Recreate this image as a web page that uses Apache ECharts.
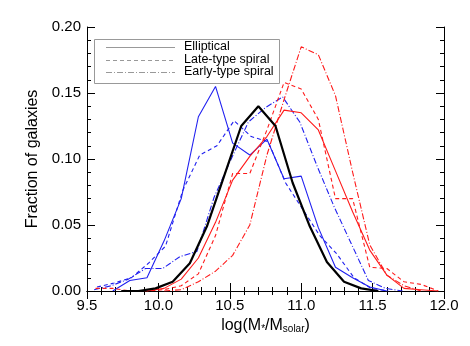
<!DOCTYPE html>
<html>
<head>
<meta charset="utf-8">
<script src="https://cdn.jsdelivr.net/npm/echarts@6/dist/echarts.min.js"></script>
<style>
  html, body { margin: 0; padding: 0; background: #fff; }
  #chart { width: 470px; height: 346px; }
</style>
</head>
<body>
<div id="chart"></div>
<script>
// axis ticks
var xTicks = [9.5, 10.0, 10.5, 11.0, 11.5, 12.0];
var yTicks = [0.00, 0.05, 0.10, 0.15, 0.20];

// black thick line (all galaxies)
var blackX = [9.74, 9.86, 9.98, 10.10, 10.22, 10.34, 10.46, 10.58, 10.70, 10.82, 10.94, 11.06, 11.18, 11.30, 11.42, 11.54];
var blackY = [0, 0, 0.002, 0.007, 0.021, 0.049, 0.087, 0.125, 0.140, 0.125, 0.082, 0.049, 0.022, 0.007, 0.002, 0];

// blue sample
var blueEllX = [9.68, 9.80, 9.92, 10.04, 10.16, 10.28, 10.40, 10.52, 10.64, 10.76, 10.88, 11.00, 11.12, 11.24, 11.36, 11.48, 11.60];
var blueEllY = [0, 0.008, 0.010, 0.038, 0.070, 0.132, 0.155, 0.112, 0.103, 0.115, 0.085, 0.087, 0.048, 0.018, 0.010, 0.003, 0];
var blueLateX = [9.57, 9.69, 9.81, 9.93, 10.05, 10.17, 10.29, 10.41, 10.53, 10.65, 10.77, 10.89, 11.01, 11.13, 11.25, 11.37, 11.49, 11.61];
var blueLateY = [0.003, 0.006, 0.010, 0.021, 0.034, 0.076, 0.103, 0.110, 0.129, 0.117, 0.113, 0.082, 0.062, 0.042, 0.028, 0.010, 0.002, 0];
var blueEarlyX = [9.55, 9.67, 9.79, 9.91, 10.03, 10.15, 10.27, 10.39, 10.51, 10.63, 10.75, 10.87, 10.99, 11.11, 11.23, 11.35, 11.47, 11.59, 11.71];
var blueEarlyY = [0.001, 0.004, 0.009, 0.017, 0.017, 0.026, 0.030, 0.071, 0.100, 0.128, 0.139, 0.147, 0.128, 0.095, 0.064, 0.036, 0.008, 0.002, 0];

// red sample
var redEllX = [9.92, 10.04, 10.16, 10.28, 10.40, 10.52, 10.64, 10.76, 10.88, 11.00, 11.12, 11.24, 11.36, 11.48, 11.60, 11.72, 11.84, 11.96];
var redEllY = [0, 0.002, 0.009, 0.025, 0.052, 0.084, 0.102, 0.117, 0.137, 0.135, 0.122, 0.091, 0.060, 0.031, 0.012, 0.002, 0.001, 0];
var redLateX = [9.56, 9.68, 9.80, 9.92, 10.04, 10.16, 10.28, 10.40, 10.52, 10.64, 10.76, 10.88, 11.00, 11.12, 11.24, 11.36, 11.48, 11.60, 11.72, 11.84, 11.96];
var redLateY = [0.002, 0.002, 0, 0, 0.001, 0.004, 0.013, 0.042, 0.089, 0.089, 0.122, 0.158, 0.153, 0.130, 0.070, 0.070, 0.018, 0.017, 0.007, 0.005, 0];
var redEarlyX = [10.04, 10.16, 10.28, 10.40, 10.52, 10.64, 10.76, 10.88, 11.00, 11.12, 11.24, 11.36, 11.48, 11.60, 11.72, 11.84];
var redEarlyY = [0, 0.001, 0.007, 0.015, 0.027, 0.050, 0.103, 0.145, 0.185, 0.179, 0.148, 0.090, 0.035, 0.012, 0.004, 0];

var legendNames = ['Elliptical', 'Late-type spiral', 'Early-type spiral'];

var FONT = 'Liberation Sans';
var DASH = [4, 3];
var DASHDOT = [6, 2, 1, 2];

function pairs(xs, ys) {
    var out = [];
    for (var i = 0; i < xs.length; i++) out.push([xs[i], ys[i]]);
    return out;
}

function lineSeries(name, xs, ys, color, type, width, z) {
    return {
        name: name,
        type: 'line',
        data: pairs(xs, ys),
        showSymbol: false,
        symbol: 'none',
        animation: false,
        z: z || 2,
        lineStyle: { color: color, width: width, type: type }
    };
}

function baseAxis(extra) {
    var ax = {
        type: 'value',
        axisLine: { show: true, lineStyle: { color: '#000', width: 1 } },
        axisTick: { show: true, inside: true, length: 8, lineStyle: { color: '#000' } },
        minorTick: { show: true, splitNumber: 5, length: 4, lineStyle: { color: '#000' } },
        splitLine: { show: false },
        minorSplitLine: { show: false }
    };
    for (var k in extra) ax[k] = extra[k];
    return ax;
}

var BLUE = '#2020f0';
var RED = '#ff1a1a';

var chart = echarts.init(document.getElementById('chart'), null, { renderer: 'canvas' });

var option = {
    animation: false,
    backgroundColor: '#fff',
    grid: { left: 87, right: 26, top: 27, bottom: 55 },
    xAxis: [
        baseAxis({
            position: 'bottom',
            min: xTicks[0], max: xTicks[xTicks.length - 1], interval: 0.5,
            axisLabel: {
                show: true, margin: 7, color: '#000', fontSize: 15, fontFamily: FONT,
                showMinLabel: true, showMaxLabel: true,
                formatter: function (v) { return v.toFixed(1); }
            },
            name: 'log(M{s|*}/M{s|solar})',
            nameLocation: 'middle',
            nameGap: 24,
            nameTextStyle: {
                color: '#000', fontSize: 16, fontFamily: FONT,
                rich: { s: { fontSize: 10, fontFamily: FONT, color: '#000', padding: [7, 0, 0, 0] } }
            }
        }),
        baseAxis({
            position: 'top',
            min: xTicks[0], max: xTicks[xTicks.length - 1], interval: 0.5,
            axisLabel: { show: false }
        })
    ],
    yAxis: [
        baseAxis({
            position: 'left',
            min: yTicks[0], max: yTicks[yTicks.length - 1], interval: 0.05,
            axisLabel: {
                show: true, margin: 6, color: '#000', fontSize: 15, fontFamily: FONT,
                formatter: function (v) { return v.toFixed(2); }
            },
            name: 'Fraction of galaxies',
            nameLocation: 'middle',
            nameGap: 46,
            nameTextStyle: { color: '#000', fontSize: 16, fontFamily: FONT }
        }),
        baseAxis({
            position: 'right',
            min: yTicks[0], max: yTicks[yTicks.length - 1], interval: 0.05,
            axisLabel: { show: false }
        })
    ],
    series: [
        lineSeries('blue ' + legendNames[0], blueEllX, blueEllY, BLUE, 'solid', 1.1),
        lineSeries('blue ' + legendNames[1], blueLateX, blueLateY, BLUE, DASH, 1.1),
        lineSeries('blue ' + legendNames[2], blueEarlyX, blueEarlyY, BLUE, DASHDOT, 1.1),
        lineSeries('red ' + legendNames[0], redEllX, redEllY, RED, 'solid', 1.1),
        lineSeries('red ' + legendNames[1], redLateX, redLateY, RED, DASH, 1.1),
        lineSeries('red ' + legendNames[2], redEarlyX, redEarlyY, RED, DASHDOT, 1.1),
        lineSeries('all', blackX, blackY, '#000', 'solid', 2.2, 5)
    ],
    // legend box drawn by hand (grey sample lines, like the original)
    graphic: [
        { type: 'rect', left: 94, top: 39, shape: { width: 185, height: 44 },
          style: { fill: '#fff', stroke: '#999', lineWidth: 1 }, z: 10 },
        { type: 'line', shape: { x1: 106, y1: 47.5, x2: 175, y2: 47.5 },
          style: { stroke: '#999', lineWidth: 1 }, z: 11 },
        { type: 'line', shape: { x1: 106, y1: 60.5, x2: 175, y2: 60.5 },
          style: { stroke: '#999', lineWidth: 1, lineDash: DASH }, z: 11 },
        { type: 'line', shape: { x1: 106, y1: 72.5, x2: 175, y2: 72.5 },
          style: { stroke: '#999', lineWidth: 1, lineDash: DASHDOT }, z: 11 },
        { type: 'text', left: 184, top: 40, z: 11,
          style: { text: legendNames[0], fill: '#000', font: '12.5px "Liberation Sans"' } },
        { type: 'text', left: 184, top: 53, z: 11,
          style: { text: legendNames[1], fill: '#000', font: '12.5px "Liberation Sans"' } },
        { type: 'text', left: 184, top: 65, z: 11,
          style: { text: legendNames[2], fill: '#000', font: '12.5px "Liberation Sans"' } }
    ]
};

chart.setOption(option);
window.addEventListener('resize', chart.resize);
</script>
</body>
</html>
